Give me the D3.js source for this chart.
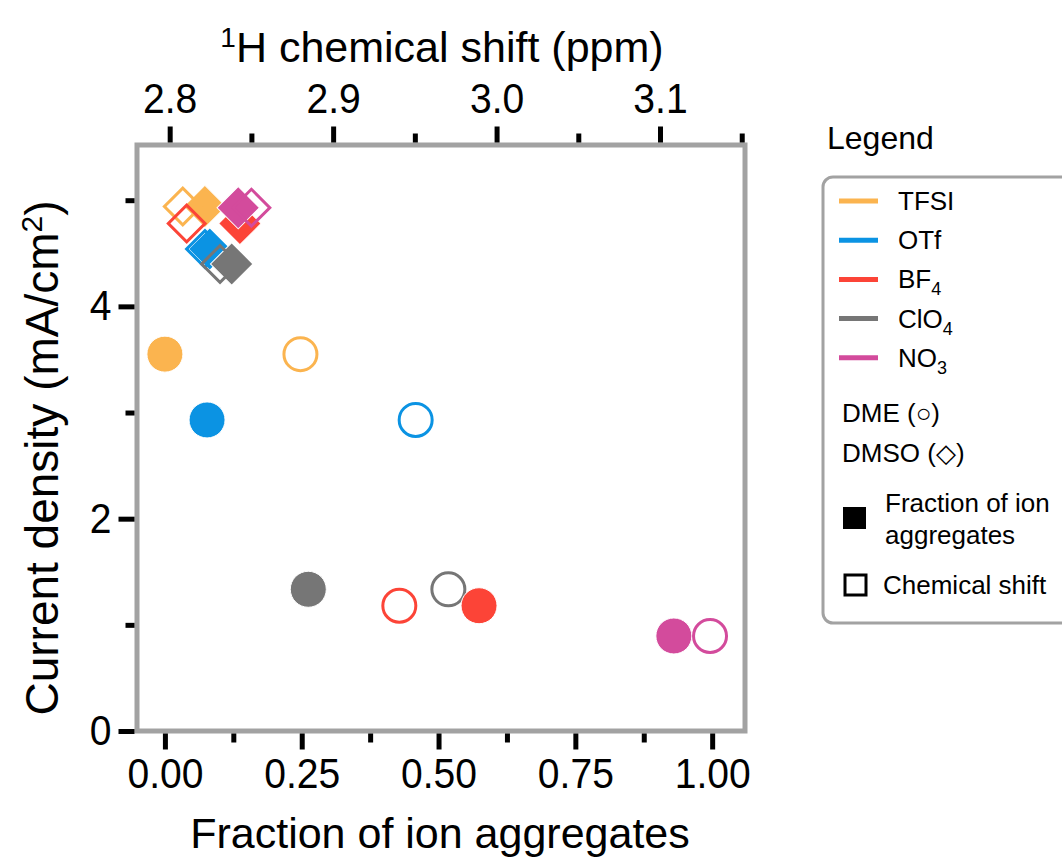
<!DOCTYPE html>
<html>
<head>
<meta charset="utf-8">
<script src="https://cdn.jsdelivr.net/npm/d3@7"></script>
<style>
  body { margin: 0; background: #fff; }
  text { font-family: "Liberation Sans", Arial, sans-serif; fill: #000; }
</style>
</head>
<body>
<div id="chart"></div>
<script>
// salts, in the order they were plotted
var salts = ["TFSI", "OTf", "ClO4", "BF4", "NO3"];
var saltColors = ["#fbb44f", "#0b93e3", "#767676", "#fc4437", "#d34b9c"];

// DME (circles)
var dmeCurrent  = [3.55, 2.93, 1.335, 1.18, 0.895];
var dmeFraction = [0.00, 0.077, 0.262, 0.574, 0.930];
var dmeShift    = [2.880, 2.9505, 2.9705, 2.9405, 3.1306];

// DMSO (diamonds)
var dmsoCurrent  = [4.94, 4.54, 4.40, 4.78, 4.93];
var dmsoFraction = [0.073, 0.082, 0.122, 0.137, 0.134];
var dmsoShift    = [2.808, 2.8216, 2.8308, 2.8104, 2.850];

// ticks
var fracMajor = [0, 0.25, 0.5, 0.75, 1.0];
var fracMinor = [0.125, 0.375, 0.625, 0.875];
var shiftMajor = [2.8, 2.9, 3.0, 3.1];
var shiftMinor = [2.85, 2.95, 3.05, 3.15];
var curMajor = [0, 2, 4];
var curMinor = [1, 3, 5];

// legend entries
var legendSalts = [["TFSI", ""], ["OTf", ""], ["BF", "4"], ["ClO", "4"], ["NO", "3"]];
var legendColors = ["#fbb44f", "#0b93e3", "#fc4437", "#767676", "#d34b9c"];

var W = 1062, H = 861;
var box = { left: 137, right: 745, top: 145, bottom: 731 };

var svg = d3.select("#chart").append("svg")
    .attr("width", W).attr("height", H);

var x = d3.scaleLinear().domain([-0.051, 1.06]).range([box.left, box.right]);
var xTop = d3.scaleLinear().domain([2.78, 3.152]).range([box.left, box.right]);
var y = d3.scaleLinear().domain([0, 5.52]).range([box.bottom, box.top]);

// frame
svg.append("rect")
    .attr("x", box.left).attr("y", box.top)
    .attr("width", box.right - box.left).attr("height", box.bottom - box.top)
    .attr("fill", "none").attr("stroke", "#a2a2a2").attr("stroke-width", 5);

// tick labels in the reference are a little narrow and tall
function styleAxis(g) {
  g.select(".domain").remove();
  g.selectAll(".tick line").attr("stroke", "#000").attr("stroke-width", 5);
  g.selectAll(".tick text").style("font-size", "42px");
}

// bottom axis
svg.append("g").attr("transform", "translate(0," + (box.bottom + 2.5) + ")")
    .call(d3.axisBottom(x).tickValues(fracMajor).tickSize(16).tickPadding(9)
      .tickFormat(d3.format(".2f")))
    .call(styleAxis)
    .selectAll(".tick text").attr("transform", "scale(0.93,1)");
svg.append("g").attr("transform", "translate(0," + (box.bottom + 2.5) + ")")
    .call(d3.axisBottom(x).tickValues(fracMinor).tickSize(9).tickFormat(""))
    .call(styleAxis);

// top axis
svg.append("g").attr("transform", "translate(0," + (box.top - 2.5) + ")")
    .call(d3.axisTop(xTop).tickValues(shiftMajor).tickSize(16).tickPadding(14)
      .tickFormat(d3.format(".1f")))
    .call(styleAxis)
    .selectAll(".tick text").attr("transform", "scale(0.93,1)");
svg.append("g").attr("transform", "translate(0," + (box.top - 2.5) + ")")
    .call(d3.axisTop(xTop).tickValues(shiftMinor).tickSize(9).tickFormat(""))
    .call(styleAxis);

// left axis
svg.append("g").attr("transform", "translate(" + (box.left - 2.5) + ",0)")
    .call(d3.axisLeft(y).tickValues(curMajor).tickSize(16).tickPadding(7)
      .tickFormat(d3.format("d")))
    .call(styleAxis)
    .selectAll(".tick text").attr("x", -23 / 0.93).attr("transform", "scale(0.93,1)");
svg.append("g").attr("transform", "translate(" + (box.left - 2.5) + ",0)")
    .call(d3.axisLeft(y).tickValues(curMinor).tickSize(9).tickFormat(""))
    .call(styleAxis);

// axis titles
svg.append("text").attr("x", (box.left + box.right) / 2 - 1).attr("y", 848)
    .attr("text-anchor", "middle").style("font-size", "43px")
    .text("Fraction of ion aggregates");

var topTitle = svg.append("text").attr("x", 442).attr("y", 62)
    .attr("text-anchor", "middle").style("font-size", "43px");
topTitle.append("tspan").attr("baseline-shift", "super").style("font-size", "28px").text("1");
topTitle.append("tspan").text("H chemical shift (ppm)");

var yTitle = svg.append("text")
    .attr("transform", "translate(58,458) rotate(-90)")
    .attr("text-anchor", "middle").style("font-size", "46px");
yTitle.append("tspan").text("Current density (mA/cm");
yTitle.append("tspan").attr("baseline-shift", "super").style("font-size", "30px").text("2");
yTitle.append("tspan").text(")");

// markers
var diamond = d3.symbol().type(d3.symbolSquare);
var plot = svg.append("g");

salts.forEach(function(s, i) {
  var c = saltColors[i];
  // DME filled: fraction of ion aggregates
  plot.append("circle")
      .attr("cx", x(dmeFraction[i])).attr("cy", y(dmeCurrent[i])).attr("r", 18)
      .attr("fill", c).attr("stroke", "#fff").attr("stroke-width", 1);
  // DME open: chemical shift
  plot.append("circle")
      .attr("cx", xTop(dmeShift[i])).attr("cy", y(dmeCurrent[i])).attr("r", 16.5)
      .attr("fill", "none").attr("stroke", c).attr("stroke-width", 3);
  // DMSO filled
  plot.append("path")
      .attr("d", diamond.size(30 * 30)())
      .attr("transform", "translate(" + x(dmsoFraction[i]) + "," + y(dmsoCurrent[i]) + ") rotate(45)")
      .attr("fill", c).attr("stroke", "#fff").attr("stroke-width", 1);
  // DMSO open
  plot.append("path")
      .attr("d", diamond.size(26 * 26)())
      .attr("transform", "translate(" + xTop(dmsoShift[i]) + "," + y(dmsoCurrent[i]) + ") rotate(45)")
      .attr("fill", "none").attr("stroke", c).attr("stroke-width", 3);
});

// legend
var lg = svg.append("g");
lg.append("text").attr("x", 827).attr("y", 149).style("font-size", "32px").text("Legend");
lg.append("rect").attr("x", 823).attr("y", 177).attr("width", 260).attr("height", 446)
    .attr("rx", 10).attr("fill", "#fff").attr("stroke", "#a2a2a2").attr("stroke-width", 3);

legendSalts.forEach(function(s, i) {
  var yy = 201 + i * 39.2;
  lg.append("line").attr("x1", 839).attr("x2", 878).attr("y1", yy).attr("y2", yy)
      .attr("stroke", legendColors[i]).attr("stroke-width", 5);
  var t = lg.append("text").attr("x", 898).attr("y", yy + 9).style("font-size", "26px");
  t.append("tspan").text(s[0]);
  if (s[1]) t.append("tspan").attr("dy", 7).style("font-size", "18px").text(s[1]);
});

lg.append("text").attr("x", 842).attr("y", 422).style("font-size", "26px").text("DME (\u25CB)");
lg.append("text").attr("x", 842).attr("y", 462).style("font-size", "26px").text("DMSO (\u25C7)");

lg.append("rect").attr("x", 843).attr("y", 507).attr("width", 23).attr("height", 22).attr("fill", "#000");
lg.append("text").attr("x", 885).attr("y", 512).style("font-size", "26px").text("Fraction of ion");
lg.append("text").attr("x", 885).attr("y", 544).style("font-size", "26px").text("aggregates");

lg.append("rect").attr("x", 845).attr("y", 575).attr("width", 21).attr("height", 20)
    .attr("fill", "none").attr("stroke", "#000").attr("stroke-width", 3);
lg.append("text").attr("x", 883).attr("y", 594).style("font-size", "26px").text("Chemical shift");
</script>
</body>
</html>
